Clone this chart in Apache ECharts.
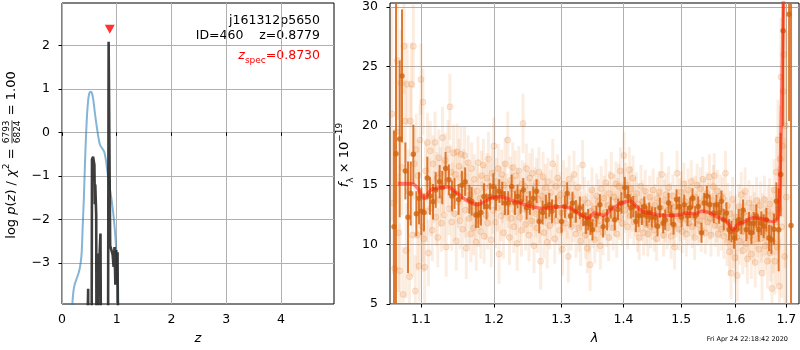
<!DOCTYPE html>
<html>
<head>
<meta charset="utf-8">
<script src="https://cdn.jsdelivr.net/npm/echarts@6/dist/echarts.min.js"></script>
<style>
  html, body { margin: 0; padding: 0; background: #fff; }
  #chart { width: 800px; height: 350px; }
</style>
</head>
<body>
<div id="chart"></div>
<script>
// ---- tick labels ----
const zTicks = [0, 1, 2, 3, 4];
const logpTicks = [-3, -2, -1, 0, 1, 2];
const lamTicks = [1.1, 1.2, 1.3, 1.4, 1.5, 1.6, 1.7];
const fluxTicks = [5, 10, 15, 20, 25, 30];

// ---- redshift fit ----
const zBest = 0.8779;
const zSpec = 0.8730;
const zSpecMarkerLogP = 2.37;
// smooth prior-like curve [z, log p]
const pzBroad = [
  [0.17,-4.4],[0.20,-3.75],[0.23,-3.5],[0.27,-3.35],[0.31,-3.2],[0.34,-3.0],[0.36,-2.75],
  [0.38,-2.1],[0.40,-1.5],[0.42,-0.7],[0.44,-0.05],[0.46,0.45],[0.48,0.76],[0.50,0.9],
  [0.525,0.93],[0.55,0.89],[0.575,0.72],[0.60,0.46],[0.625,0.22],[0.645,0.05],[0.67,-0.15],
  [0.695,-0.29],[0.72,-0.34],[0.75,-0.4],[0.775,-0.46],[0.80,-0.62],[0.83,-0.9],[0.86,-1.18],
  [0.89,-1.42],[0.91,-1.58],[0.95,-2.02],[0.98,-2.48],[1.00,-2.94],[1.017,-3.55],[1.035,-4.3]
];
// spiky fit curve [z, log p]
const pzFit = [
  [0.40,-9],[0.478,-3.59],[0.485,-9],[0.535,-9],[0.548,-0.62],[0.558,-0.66],[0.568,-0.56],
  [0.58,-0.58],[0.592,-0.75],[0.60,-1.65],[0.608,-1.2],[0.615,-1.17],[0.625,-1.9],[0.638,-9],
  [0.655,-9],[0.664,-2.78],[0.675,-3.3],[0.69,-2.7],[0.703,-2.32],[0.712,-2.35],[0.725,-9],
  [0.835,-9],[0.852,2.08],[0.868,2.08],[0.88,-2.6],[0.905,-2.63],[0.925,-2.8],[0.943,-3.09],
  [0.96,-2.63],[0.975,-3.5],[0.99,-2.7],[1.005,-3.45],[1.015,-2.75],[1.035,-2.75],[1.045,-9]
];

// ---- spectrum: individual beam pixels [lambda, flux, err] ----
const beamPoints = [
  [1.0625,21.0,9],[1.0645,13.5,6],[1.0660,8.0,7],[1.0680,19.5,6],[1.0695,25.5,5],[1.0710,11.0,5],
  [1.0725,7.8,4],[1.0740,23.6,4.5],[1.0752,16.5,4],[1.0768,5.8,4],[1.0780,26.7,4],[1.0795,20.4,3.5],
  [1.0808,9.5,4],[1.0820,23.5,3.5],[1.0835,14.5,3.5],[1.0850,7.3,3.5],[1.0862,20.4,3],[1.0875,23.5,3.5],
  [1.0888,10.8,3.5],[1.0900,26.7,3.5],[1.0912,16.8,3],[1.0925,6.1,3],[1.0938,18.0,3],[1.0950,10.8,3],
  [1.0962,15.8,3],[1.0975,8.2,3],[1.0988,18.8,3],[1.1000,23.9,3],[1.1012,11.5,3],[1.1025,22.0,2.8],
  [1.1035,10.5,2.8],[1.1048,8.1,3],
  [1.1060,16.2,2.5],[1.1072,12.8,2.6],[1.1085,18.6,2.5],[1.1098,9.3,2.8],[1.1110,15.0,2.3],[1.1122,17.9,2.5],
  [1.1135,13.1,2.4],[1.1148,11.2,2.6],[1.1160,16.8,2.4],[1.1172,14.0,2.2],[1.1185,18.6,2.6],[1.1198,12.3,2.4],
  [1.1210,15.6,2.2],[1.1222,10.6,2.5],[1.1235,17.3,2.4],[1.1248,13.8,2.3],[1.1260,16.0,2.2],[1.1272,11.8,2.4],
  [1.1285,19.0,2.6],[1.1298,14.9,2.2],[1.1310,12.5,2.4],[1.1322,17.1,2.3],[1.1335,9.8,2.5],[1.1348,15.4,2.2],
  [1.1360,18.0,2.5],[1.1372,13.0,2.2],[1.1385,21.6,2.8],[1.1398,16.1,2.3],[1.1410,11.9,2.4],[1.1422,14.7,2.2],
  [1.1435,17.7,2.4],[1.1448,12.6,2.3],[1.1460,15.9,2.2],[1.1472,10.3,2.5],[1.1485,17.8,2.4],[1.1498,13.6,2.2],
  [1.1510,16.6,2.3],[1.1522,12.0,2.4],[1.1535,17.6,2.3],[1.1548,14.4,2.2],[1.1560,11.3,2.4],[1.1572,15.8,2.2],
  [1.1585,17.5,2.4],[1.1598,12.9,2.3],[1.1610,9.7,2.6],[1.1622,14.9,2.2],[1.1635,16.9,2.3],[1.1648,12.2,2.3],
  [1.1660,14.2,2.1],[1.1672,10.9,2.4],[1.1685,16.4,2.2],
  [1.1698,13.2,2.1],[1.1710,11.4,2.3],[1.1722,15.5,2.1],[1.1735,12.6,2.2],[1.1748,10.2,2.4],[1.1760,14.5,2.1],
  [1.1772,16.9,2.2],[1.1785,12.0,2.2],[1.1798,13.9,2.0],[1.1810,11.1,2.3],[1.1822,15.8,2.1],[1.1835,13.3,2.0],
  [1.1848,16.7,2.2],[1.1860,10.7,2.3],[1.1872,14.8,2.0],[1.1885,12.5,2.1],[1.1898,15.6,2.1],[1.1910,11.8,2.2],
  [1.1922,17.2,2.3],[1.1935,13.6,2.0],[1.1948,14.9,2.0],[1.1960,10.4,2.3],[1.1972,16.0,2.1],[1.1985,12.9,2.0],
  [1.1998,18.3,2.4],[1.2010,14.3,2.0],[1.2022,11.9,2.2],[1.2035,15.3,2.0],[1.2048,13.1,2.0],[1.2060,16.4,2.1],
  [1.2072,9.2,2.5],[1.2085,14.6,2.0],[1.2098,12.4,2.1],[1.2110,15.9,2.1],[1.2122,13.8,2.0],[1.2135,11.0,2.2],
  [1.2148,15.0,2.0],[1.2160,16.8,2.2],[1.2172,12.7,2.1],[1.2185,14.0,2.0],[1.2198,18.8,2.4],[1.2210,13.4,2.0],
  [1.2222,10.6,2.3],[1.2235,15.4,2.0],[1.2248,12.2,2.1],[1.2260,14.7,2.0],[1.2272,16.5,2.1],[1.2285,11.5,2.2],
  [1.2298,13.7,2.0],[1.2310,15.8,2.1],[1.2322,12.8,2.0],[1.2335,10.1,2.3],[1.2348,14.4,2.0],[1.2360,16.2,2.1],
  [1.2372,12.3,2.1],[1.2385,13.9,2.0],[1.2398,11.2,2.2],[1.2410,15.1,2.0],[1.2422,20.2,2.5],[1.2435,13.0,2.0],
  [1.2448,14.9,2.0],[1.2460,11.7,2.2],[1.2472,16.4,2.1],[1.2485,12.9,2.0],[1.2498,14.2,2.0],[1.2510,10.8,2.2],
  [1.2522,15.6,2.1],[1.2535,13.5,2.0],[1.2548,12.0,2.1],[1.2560,16.0,2.1],[1.2572,13.2,2.0],[1.2585,9.9,2.3],
  [1.2598,14.5,2.0],[1.2610,12.6,2.0],[1.2622,15.2,2.1],[1.2635,11.4,2.1],[1.2648,13.8,2.0],[1.2660,16.1,2.1],
  [1.2672,12.1,2.0],[1.2685,8.6,2.4],[1.2698,14.1,2.0],[1.2710,12.8,2.0],[1.2722,15.7,2.1],[1.2735,11.0,2.2],
  [1.2748,13.6,2.0],[1.2760,14.8,2.0],[1.2772,12.4,2.0],[1.2785,10.2,2.2],[1.2798,15.3,2.0],
  [1.2810,13.1,1.9],[1.2825,11.6,2.0],[1.2840,14.4,1.9],[1.2855,12.3,2.0],[1.2870,16.8,2.1],[1.2885,13.5,1.9],
  [1.2900,10.5,2.1],[1.2915,14.9,1.9],[1.2930,12.0,2.0],[1.2945,15.6,2.0],[1.2960,13.7,1.9],[1.2975,11.2,2.0],
  [1.2990,14.2,1.9],[1.3005,12.7,1.9],[1.3020,9.6,2.2],[1.3035,15.1,2.0],[1.3050,13.0,1.9],[1.3065,11.8,2.0],
  [1.3080,14.6,1.9],[1.3095,12.4,1.9],[1.3110,9.0,2.2],[1.3125,15.5,2.0],[1.3140,13.3,1.9],[1.3155,11.5,2.0],
  [1.3170,14.0,1.9],[1.3185,12.1,1.9],[1.3200,15.9,2.0],[1.3215,13.4,1.9],[1.3230,10.9,2.0],[1.3245,12.9,1.9],
  [1.3260,14.8,1.9],[1.3275,11.4,2.0],[1.3290,13.2,1.9],[1.3305,10.3,2.1],[1.3320,12.6,1.9],[1.3335,16.7,2.1],
  [1.3350,11.9,1.9],[1.3365,13.8,1.9],[1.3380,10.8,2.0],[1.3395,12.4,1.9],[1.3410,9.7,2.1],[1.3425,13.5,1.9],
  [1.3440,11.2,1.9],[1.3455,8.3,2.2],[1.3470,12.8,1.9],[1.3485,14.6,1.9],[1.3500,11.6,1.9],[1.3515,13.0,1.9],
  [1.3530,10.4,2.0],[1.3545,12.2,1.9],[1.3560,14.1,1.9],[1.3575,11.3,1.9],[1.3590,13.6,1.9],[1.3605,12.0,1.9],
  [1.3620,9.9,2.0],[1.3635,14.7,1.9],[1.3650,12.5,1.9],[1.3665,11.0,1.9],[1.3680,13.9,1.9],[1.3695,12.7,1.9],
  [1.3710,15.2,2.0],[1.3725,11.7,1.9],[1.3740,13.3,1.9],[1.3755,10.6,2.0],[1.3770,14.3,1.9],[1.3785,12.2,1.9],
  [1.3800,15.8,2.0],[1.3815,13.1,1.9],[1.3830,11.4,1.9],[1.3845,14.0,1.9],[1.3860,12.6,1.9],[1.3875,15.1,1.9],
  [1.3890,10.9,2.0],[1.3905,13.7,1.9],[1.3920,14.9,1.9],[1.3935,12.3,1.9],[1.3950,16.2,2.0],[1.3965,13.4,1.9],
  [1.3980,11.8,1.9],[1.3995,14.5,1.9],[1.4010,17.5,2.0],[1.4025,12.9,1.9],[1.4040,15.0,1.9],[1.4055,13.6,1.9],
  [1.4070,11.5,1.9],[1.4085,14.2,1.9],[1.4100,16.3,1.9],[1.4115,12.4,1.9],[1.4130,14.7,1.9],[1.4145,13.0,1.9],
  [1.4160,15.6,1.9],[1.4175,11.9,1.9],[1.4190,13.8,1.9],
  [1.4205,12.5,1.8],[1.4220,14.3,1.8],[1.4235,11.3,1.9],[1.4250,13.4,1.8],[1.4265,10.6,1.9],[1.4280,12.8,1.8],
  [1.4295,14.9,1.8],[1.4310,12.1,1.8],[1.4325,13.6,1.8],[1.4340,11.0,1.9],[1.4355,12.9,1.8],[1.4370,14.5,1.8],
  [1.4385,11.7,1.8],[1.4400,13.2,1.8],[1.4415,10.9,1.9],[1.4430,12.4,1.8],[1.4445,14.0,1.8],[1.4460,11.5,1.8],
  [1.4475,13.0,1.8],[1.4490,12.2,1.8],[1.4505,14.6,1.8],[1.4520,11.2,1.8],[1.4535,13.3,1.8],[1.4550,12.0,1.8],
  [1.4565,10.5,1.9],[1.4580,13.9,1.8],[1.4595,12.6,1.8],[1.4610,14.4,1.8],[1.4625,11.8,1.8],[1.4640,13.1,1.8],
  [1.4655,15.9,1.9],[1.4670,12.3,1.8],[1.4685,10.8,1.8],[1.4700,13.7,1.8],[1.4715,12.0,1.8],[1.4730,14.2,1.8],
  [1.4745,11.4,1.8],[1.4760,12.9,1.8],[1.4775,14.8,1.8],[1.4790,11.9,1.8],[1.4805,13.4,1.8],[1.4820,10.7,1.9],
  [1.4835,12.6,1.8],[1.4850,14.1,1.8],[1.4865,11.6,1.8],[1.4880,9.8,1.9],[1.4895,13.2,1.8],[1.4910,12.4,1.8],
  [1.4925,16.0,1.9],[1.4940,12.9,1.8],[1.4955,11.3,1.8],[1.4970,13.8,1.8],[1.4985,12.1,1.8],[1.5000,14.4,1.8],
  [1.5015,11.1,1.8],[1.5030,13.0,1.8],[1.5045,15.1,1.8],[1.5060,12.2,1.8],[1.5075,13.6,1.8],[1.5090,10.9,1.9],
  [1.5105,12.8,1.8],[1.5120,14.6,1.8],[1.5135,11.8,1.8],[1.5150,13.3,1.8],[1.5165,12.5,1.8],[1.5180,15.3,1.8],
  [1.5195,11.5,1.8],[1.5210,13.9,1.8],[1.5225,12.3,1.8],[1.5240,10.6,1.9],[1.5255,14.0,1.8],[1.5270,12.7,1.8],
  [1.5285,15.0,1.8],[1.5300,11.7,1.8],[1.5315,13.5,1.8],[1.5330,12.0,1.8],[1.5345,14.7,1.8],[1.5360,11.2,1.8],
  [1.5375,13.1,1.8],[1.5390,15.5,1.9],[1.5405,12.4,1.8],[1.5420,13.8,1.8],[1.5435,11.0,1.8],[1.5450,12.9,1.8],
  [1.5465,14.3,1.8],[1.5480,11.9,1.8],[1.5495,13.4,1.8],[1.5510,15.7,1.9],[1.5525,12.2,1.8],[1.5540,10.8,1.8],
  [1.5555,13.7,1.8],[1.5570,12.5,1.8],[1.5585,14.9,1.8],[1.5600,15.8,1.9],[1.5615,11.6,1.8],[1.5630,13.2,1.8],
  [1.5645,12.0,1.8],[1.5660,14.5,1.8],[1.5675,10.9,1.9],[1.5690,13.0,1.8],[1.5705,12.3,1.8],[1.5720,14.1,1.8],
  [1.5735,11.3,1.8],[1.5750,12.8,1.8],[1.5765,13.9,1.8],[1.5780,10.7,1.9],[1.5795,12.5,1.8],[1.5810,16.0,1.9],
  [1.5825,12.1,1.9],[1.5840,10.2,2.0],[1.5855,13.3,1.9],[1.5870,11.5,1.9],[1.5885,9.4,2.0],[1.5900,12.6,1.9],
  [1.5915,7.6,2.2],[1.5930,11.0,1.9],[1.5945,13.8,1.9],[1.5960,10.0,2.0],[1.5975,11.9,1.9],[1.5990,8.9,2.1],
  [1.6005,12.3,1.9],[1.6020,10.6,2.0],[1.6035,7.4,2.2],[1.6050,11.4,1.9],[1.6065,13.2,1.9],[1.6080,10.3,2.0],
  [1.6095,12.0,1.9],[1.6110,14.2,1.9],[1.6125,11.1,1.9],[1.6140,9.5,2.0],[1.6155,12.7,1.9],[1.6170,11.6,1.9],
  [1.6185,14.5,2.0],[1.6200,10.1,2.0],[1.6215,12.4,1.9],[1.6230,8.8,2.1],[1.6245,11.3,1.9],[1.6260,13.5,1.9],
  [1.6275,10.7,2.0],[1.6290,12.2,1.9],[1.6305,9.2,2.1],[1.6320,11.8,1.9],[1.6335,13.1,1.9],[1.6350,10.4,2.0],
  [1.6365,12.5,1.9],[1.6380,8.5,2.1],[1.6395,11.5,1.9],[1.6410,13.7,2.0],[1.6425,10.9,2.0],[1.6440,12.1,1.9],
  [1.6455,9.6,2.1],[1.6470,11.9,1.9],[1.6485,13.3,2.0],[1.6500,10.5,2.0],[1.6515,7.6,2.3],[1.6530,12.3,2.0],
  [1.6545,11.0,2.0],[1.6560,13.8,2.0],[1.6575,9.9,2.1],[1.6590,12.0,2.0],[1.6605,11.2,2.1],[1.6620,8.6,2.3],
  [1.6635,12.8,2.1],[1.6650,10.6,2.2],[1.6665,13.4,2.2],[1.6680,9.3,2.4],[1.6695,11.7,2.3],[1.6710,6.3,2.6],
  [1.6725,12.4,2.4],[1.6740,10.2,2.6],[1.6755,14.6,2.6],[1.6770,8.6,2.8],[1.6785,11.9,2.8],[1.6800,16.1,3.0],
  [1.6815,9.8,3.2],[1.6830,18.8,3.4],[1.6845,13.0,3.6],[1.6860,6.5,4.0],[1.6875,17.2,4.5],[1.6890,24.1,5],
  [1.6905,11.5,6],[1.6920,18.3,6],[1.6935,22.9,8],[1.6950,26.0,9],[1.6965,9.0,10],[1.6980,20.0,12],
  [1.7000,14.0,14]
];

// ---- spectrum: binned points [lambda, flux, err] ----
const binnedPoints = [
  [1.0652,11.5,8.1],[1.0677,17.65,14],[1.0724,18.9,6.6],[1.0754,24.2,5.6],[1.0797,16.2,2.4],
  [1.0831,12.3,4.7],[1.0866,14.3,2.7],[1.0900,17.6,2.5],[1.0939,12.6,1.9],[1.0974,13.9,2.2],
  [1.1004,12.8,2.0],[1.1039,12.7,1.6],[1.1083,15.6,1.8],[1.1118,14.1,1.6],[1.1158,13.6,1.5],
  [1.1194,14.6,1.5],[1.1247,15.3,1.4],[1.1282,14.8,1.4],[1.1327,16.4,1.4],[1.1371,15.45,1.3],
  [1.1413,14.1,1.3],[1.1448,14.3,1.3],[1.1504,13.8,1.3],[1.1549,15.0,1.2],[1.1594,15.3,1.2],
  [1.1653,13.8,1.2],[1.1684,13.64,1.2],[1.1744,12.5,1.1],[1.1777,12.5,1.1],[1.1814,12.7,1.1],
  [1.1857,14.06,1.1],[1.1894,13.2,1.1],[1.1942,14.06,1.1],[1.1989,14.9,1.1],[1.2027,13.9,1.0],
  [1.2075,14.5,1.0],[1.2118,14.3,1.0],[1.2157,13.5,1.0],[1.2205,13.5,1.0],[1.2254,14.9,1.0],
  [1.2302,13.5,1.0],[1.2341,14.06,1.0],[1.2386,13.6,1.0],[1.2425,14.6,1.0],[1.2475,13.1,1.0],
  [1.2524,13.5,1.0],[1.2574,13.9,1.0],[1.2624,14.5,1.0],[1.2664,11.95,1.0],[1.2715,12.7,1.0],
  [1.2765,13.2,1.0],[1.2816,13.35,1.0],[1.2858,12.8,1.0],[1.2918,13.2,0.95],[1.3005,11.95,0.95],
  [1.3057,13.2,0.95],[1.3093,14.3,0.95],[1.3145,12.4,0.95],[1.3176,13.5,0.95],[1.3229,12.8,0.95],
  [1.3292,13.1,0.95],[1.3345,12.5,0.95],[1.3387,11.8,0.9],[1.3424,12.1,0.9],[1.3461,11.7,0.9],
  [1.3493,11.25,0.9],[1.3557,12.4,0.9],[1.3613,13.35,0.9],[1.3666,11.5,0.9],[1.3730,12.1,0.9],
  [1.3790,13.1,0.9],[1.3856,12.1,0.9],[1.3911,12.95,0.9],[1.3966,13.5,0.9],[1.4024,14.8,0.9],
  [1.4080,14.06,0.9],[1.4126,13.1,0.9],[1.4165,13.2,0.9],[1.4210,11.95,0.9],[1.4255,12.4,0.9],
  [1.4312,12.5,0.85],[1.4352,13.2,0.85],[1.4392,12.4,0.85],[1.4437,12.7,0.85],[1.4483,12.3,0.85],
  [1.4541,12.3,0.85],[1.4581,11.55,0.85],[1.4622,13.1,0.85],[1.4679,11.8,0.85],[1.4715,12.1,0.85],
  [1.4774,13.5,0.85],[1.4821,12.5,0.85],[1.4862,11.7,0.85],[1.4915,13.8,0.85],[1.4963,13.2,0.85],
  [1.5004,12.3,0.85],[1.5052,13.35,0.85],[1.5112,12.4,0.85],[1.5160,13.1,0.85],[1.5202,13.9,0.85],
  [1.5250,12.4,0.85],[1.5305,13.2,0.85],[1.5366,11.0,0.85],[1.5415,13.5,0.85],[1.5464,14.1,0.85],
  [1.5518,13.35,0.85],[1.5591,12.66,0.85],[1.5641,13.35,0.85],[1.5690,12.66,0.9],[1.5734,13.64,0.9],
  [1.5778,12.1,0.9],[1.5828,12.66,0.9],[1.5878,11.25,0.9],[1.5922,11.1,0.9],[1.5973,10.55,0.9],
  [1.6017,11.25,0.9],[1.6062,12.1,0.9],[1.6113,11.8,0.9],[1.6145,12.9,0.9],[1.6209,11.25,0.95],
  [1.6261,11.8,0.95],[1.6306,11.0,0.95],[1.6351,11.8,0.95],[1.6403,12.4,1.0],[1.6449,11.25,1.0],
  [1.6501,11.8,1.0],[1.6547,11.55,1.0],[1.6600,12.1,1.0],[1.6653,10.55,1.1],[1.6699,10.4,1.2],
  [1.6752,11.3,1.3],[1.6799,13.64,1.6],[1.6846,11.25,3.5],[1.6886,15.9,3.5],[1.6935,28.0,8],
  [1.7055,29.4,9],[1.7095,11.6,25]
];

// ---- best-fit model [lambda, flux] ----
const modelCurve = [
  [1.0700,15.15],[1.0800,15.15],[1.0900,15.1],[1.0960,14.7],[1.1020,14.0],[1.1052,13.9],
  [1.1090,14.3],[1.1140,14.65],[1.1250,14.8],[1.1360,14.85],[1.1450,14.5],[1.1550,14.0],
  [1.1650,13.6],[1.1760,13.36],[1.1850,13.55],[1.1950,13.9],[1.2060,14.05],[1.2150,13.95],
  [1.2250,13.75],[1.2400,13.45],[1.2550,13.2],[1.2700,13.05],[1.2850,13.1],[1.3000,13.2],
  [1.3150,13.05],[1.3280,12.6],[1.3400,12.25],[1.3450,12.3],[1.3520,12.66],[1.3600,12.55],
  [1.3680,12.45],[1.3780,12.9],[1.3900,13.3],[1.4000,13.55],[1.4110,13.7],[1.4200,13.3],
  [1.4320,12.8],[1.4440,12.66],[1.4600,12.5],[1.4800,12.45],[1.4950,12.5],[1.5100,12.66],
  [1.5250,12.6],[1.5370,12.8],[1.5500,12.7],[1.5650,12.35],[1.5830,11.95],[1.5955,11.25],
  [1.6040,11.7],[1.6150,11.9],[1.6330,12.24],[1.6500,12.2],[1.6650,12.0],[1.6760,11.95],
  [1.6830,12.3],[1.6870,15.5],[1.6900,21],[1.6930,28],[1.6960,36]
];

// ---- drawing ----
const FONT = 'DejaVu Sans';
const lg = Math.log10;
const MINUS = '\u2212';
const fmtNum = v => (v < 0 ? MINUS + Math.abs(v) : String(v));

const beamData = beamPoints.map(p => [lg(p[0]), p[1], p[2]]);
const binData = binnedPoints.map(p => [lg(p[0]), p[1], p[2]]);
const modelData = modelCurve.map(p => [lg(p[0]), p[1]]);

function errorBars(color, width) {
  return function (params, api) {
    const x = api.value(0), v = api.value(1), e = api.value(2);
    const cs = params.coordSys;
    const a = api.coord([x, v + e]);
    const b = api.coord([x, v - e]);
    const top = cs.y, bot = cs.y + cs.height;
    const y1 = Math.max(top, Math.min(bot, a[1]));
    const y2 = Math.max(top, Math.min(bot, b[1]));
    if (y1 === y2) return null;
    return {
      type: 'line',
      shape: { x1: a[0], y1: y1, x2: b[0], y2: y2 },
      style: { stroke: color, lineWidth: width }
    };
  };
}

const tickStyle = { color: '#000', fontSize: 12.5, fontFamily: FONT };
const gridLine = { show: true, lineStyle: { color: '#b0b0b0', width: 1 } };
const outTick = vals => ({ show: true, inside: false, length: 3.5, customValues: vals, lineStyle: { color: '#000', width: 1 } });

// text width helper for laying out the stacked fraction
const measureCtx = document.createElement('canvas').getContext('2d');
function textWidth(txt, size, italic) {
  measureCtx.font = (italic ? 'italic ' : '') + size + 'px "' + FONT + '"';
  return measureCtx.measureText(txt).width;
}

// y title of the p(z) panel: log p(z) / χ² = 6793/6824 = 1.00
const T = 13;
const head = [['log ', false], ['p', true], ['(', false], ['z', true], [') / ', false], ['\u03c7', true]];
let headW = 0;
head.forEach(h => { headW += textWidth(h[0], T, h[1]); });
headW += textWidth('2', 9, false) + textWidth(' = ', T, false);
const fracW = Math.max(textWidth('6793', 9, false), textWidth('6824', 9, false)) + 2;
const tailW = textWidth(' = 1.00', T, false);
const totalW = headW + fracW + tailW;
const s0 = -totalW / 2;
const richMain = {
  n: { fontSize: T, fontFamily: FONT, fill: '#000', lineHeight: 20 },
  i: { fontSize: T, fontFamily: FONT, fontStyle: 'italic', fill: '#000', lineHeight: 20 },
  sup: { fontSize: 9, fontFamily: FONT, fill: '#000', lineHeight: 10, verticalAlign: 'top' },
  sub: { fontSize: 9, fontFamily: FONT, fill: '#000', lineHeight: 10, verticalAlign: 'bottom' }
};

const option = {
  animation: false,
  backgroundColor: '#fff',
  grid: [
    { left: 62, top: 3, width: 272, height: 301, show: true, borderColor: '#000', borderWidth: 1, backgroundColor: 'transparent' },
    { left: 390, top: 3, width: 409, height: 301, show: true, borderColor: '#000', borderWidth: 1, backgroundColor: 'transparent' }
  ],
  xAxis: [
    {
      gridIndex: 0, type: 'value', min: 0, max: 4.97,
      axisLine: { show: false }, axisTick: outTick(zTicks),
      axisLabel: Object.assign({ customValues: zTicks, margin: 9, formatter: fmtNum }, tickStyle),
      splitLine: gridLine,
      name: 'z', nameLocation: 'middle', nameGap: 28,
      nameTextStyle: { fontStyle: 'italic', fontSize: 13, fontFamily: FONT, color: '#000' }
    },
    {
      gridIndex: 1, type: 'value', min: lg(1.0601), max: lg(1.7258),
      axisLine: { show: false }, axisTick: outTick(lamTicks.map(lg)),
      axisLabel: Object.assign({ customValues: lamTicks.map(lg), margin: 9,
        formatter: v => Math.pow(10, v).toFixed(1) }, tickStyle),
      splitLine: gridLine,
      name: '\u03bb', nameLocation: 'middle', nameGap: 28,
      nameTextStyle: { fontStyle: 'italic', fontSize: 13, fontFamily: FONT, color: '#000' }
    }
  ],
  yAxis: [
    {
      gridIndex: 0, type: 'value', min: -3.94, max: 2.97,
      axisLine: { show: false }, axisTick: outTick(logpTicks),
      axisLabel: Object.assign({ customValues: logpTicks, margin: 12, formatter: fmtNum }, tickStyle),
      splitLine: gridLine
    },
    {
      gridIndex: 1, type: 'value', min: 5, max: 30.34,
      axisLine: { show: false }, axisTick: outTick(fluxTicks),
      axisLabel: Object.assign({ customValues: fluxTicks, margin: 12, formatter: fmtNum }, tickStyle),
      splitLine: gridLine
    }
  ],
  series: [
    {
      type: 'line', xAxisIndex: 0, yAxisIndex: 0, data: pzBroad, smooth: 0.3,
      showSymbol: false, clip: true, z: 2,
      lineStyle: { color: 'rgba(31,119,180,0.55)', width: 2 }
    },
    {
      type: 'line', xAxisIndex: 0, yAxisIndex: 0, data: pzFit,
      showSymbol: false, clip: true, z: 3,
      lineStyle: { color: 'rgba(40,40,40,0.9)', width: 2.6 }
    },
    {
      type: 'scatter', xAxisIndex: 0, yAxisIndex: 0, data: [[zSpec, zSpecMarkerLogP]],
      symbol: 'triangle', symbolRotate: 180, symbolSize: [10, 9], z: 4,
      itemStyle: { color: '#ff0000' }
    },
    {
      type: 'custom', xAxisIndex: 1, yAxisIndex: 1, data: beamData, clip: true, z: 2,
      renderItem: errorBars('rgba(232,125,45,0.14)', 3)
    },
    {
      type: 'scatter', xAxisIndex: 1, yAxisIndex: 1, data: beamData, symbolSize: 6, z: 2,
      itemStyle: { color: 'rgba(230,125,40,0.2)', borderColor: 'rgba(220,115,35,0.22)', borderWidth: 1 }
    },
    {
      type: 'custom', xAxisIndex: 1, yAxisIndex: 1, data: binData, clip: true, z: 3,
      renderItem: errorBars('rgba(216,100,18,0.85)', 2)
    },
    {
      type: 'scatter', xAxisIndex: 1, yAxisIndex: 1, data: binData, symbolSize: 5.5, z: 3,
      itemStyle: { color: '#d0640f' }
    },
    {
      type: 'line', xAxisIndex: 1, yAxisIndex: 1, data: modelData, smooth: 0.25,
      showSymbol: false, clip: true, z: 4,
      lineStyle: { color: 'rgba(255,20,10,0.5)', width: 3.5 }
    }
  ],
  graphic: [
    {
      type: 'text', x: 320, y: 21,
      style: { text: 'j161312p5650', align: 'right', verticalAlign: 'middle', fontSize: 12.5, fontFamily: FONT, fill: '#000' }
    },
    {
      type: 'text', x: 320, y: 36,
      style: { text: 'ID=460    z=' + zBest.toFixed(4), align: 'right', verticalAlign: 'middle', fontSize: 12.5, fontFamily: FONT, fill: '#000' }
    },
    {
      type: 'text', x: 320, y: 56,
      style: {
        text: '{i|z}{sub|spec}{n|=' + zSpec.toFixed(4) + '}', align: 'right', verticalAlign: 'middle',
        rich: {
          n: { fontSize: 12.5, fontFamily: FONT, fill: '#ff0000', lineHeight: 18 },
          i: { fontSize: 12.5, fontFamily: FONT, fontStyle: 'italic', fill: '#ff0000', lineHeight: 18 },
          sub: { fontSize: 9, fontFamily: FONT, fill: '#ff0000', lineHeight: 10, verticalAlign: 'bottom' }
        }
      }
    },
    {
      type: 'group', x: 12, y: 155, rotation: Math.PI / 2,
      children: [
        {
          type: 'text', x: s0, y: 0,
          style: {
            text: '{n|log }{i|p}{n|(}{i|z}{n|) / }{i|\u03c7}{sup|2}{n| = }',
            align: 'left', verticalAlign: 'middle', rich: richMain
          }
        },
        {
          type: 'text', x: s0 + headW + fracW / 2, y: -5.5,
          style: { text: '6793', align: 'center', verticalAlign: 'middle', fontSize: 9, fontFamily: FONT, fill: '#000' }
        },
        {
          type: 'line', shape: { x1: s0 + headW + 1, y1: 0, x2: s0 + headW + fracW - 1, y2: 0 },
          style: { stroke: '#000', lineWidth: 0.8 }
        },
        {
          type: 'text', x: s0 + headW + fracW / 2, y: 5.5,
          style: { text: '6824', align: 'center', verticalAlign: 'middle', fontSize: 9, fontFamily: FONT, fill: '#000' }
        },
        {
          type: 'text', x: s0 + headW + fracW, y: 0,
          style: { text: '{n| = 1.00}', align: 'left', verticalAlign: 'middle', rich: richMain }
        }
      ]
    },
    {
      type: 'text', x: 345, y: 155, rotation: Math.PI / 2,
      style: {
        text: '{i|f}{sub|\u03bb}{n| \u00d7 10}{sup|' + MINUS + '19}',
        align: 'center', verticalAlign: 'middle', rich: richMain
      }
    },
    {
      type: 'text', x: 788, y: 339,
      style: { text: 'Fri Apr 24 22:18:42 2020', align: 'right', verticalAlign: 'middle', fontSize: 6.5, fontFamily: FONT, fill: '#000' }
    }
  ]
};

const chart = echarts.init(document.getElementById('chart'), null, { renderer: 'canvas' });
chart.setOption(option);
</script>
</body>
</html>
